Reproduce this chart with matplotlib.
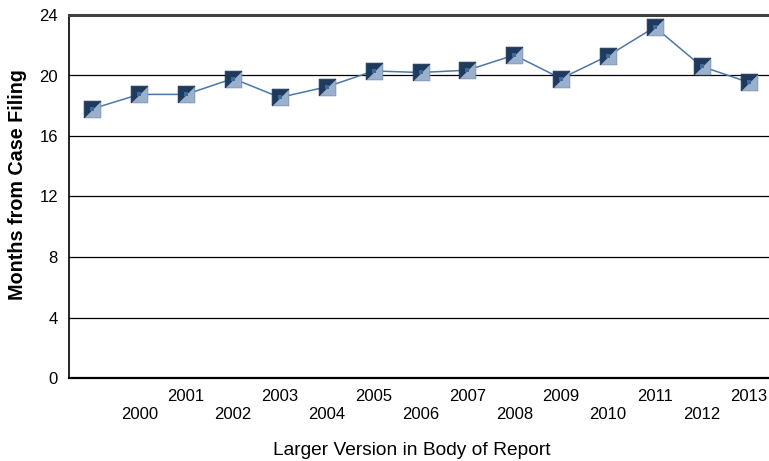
import matplotlib.pyplot as plt
from matplotlib.path import Path

plt.rcParams['font.family'] = ['Liberation Sans', 'DejaVu Sans']

years = [1999, 2000, 2001, 2002, 2003, 2004, 2005, 2006, 2007, 2008,
         2009, 2010, 2011, 2012, 2013]
months = [17.8, 18.75, 18.75, 19.8, 18.55, 19.25, 20.3, 20.2, 20.35, 21.35,
          19.8, 21.3, 23.2, 20.6, 19.55]
tick_labels = ["", "\n2000", "2001", "\n2002", "2003", "\n2004", "2005", "\n2006",
               "2007", "\n2008", "2009", "\n2010", "2011", "\n2012", "2013"]

W, H = 769, 461
fig = plt.figure(figsize=(W / 100, H / 100), dpi=100)
ax = fig.add_axes([69 / W, 1 - 378 / H, (772 - 69) / W, (378 - 15) / H])

x = list(range(len(years)))

ax.plot(x, months, color="#4a76aa", lw=1.1, zorder=3)

# split square marker: dark upper-left, light lower-right
upper_left = Path([(-1, -1), (-1, 1), (1, 1), (-1, -1)])
lower_right = Path([(-1, -1), (1, -1), (1, 1), (-1, -1)])
ax.plot(x, months, ls="none", marker=lower_right, ms=12, color="#9bb0cb",
        mec="#7890b0", mew=0.6, zorder=4)
ax.plot(x, months, ls="none", marker=upper_left, ms=12, color="#1f3a5c",
        mec="#1f3a5c", mew=0.6, zorder=5)
ax.plot(x, months, ls="none", marker="s", ms=2.5, color="#3d6a9e", mew=0, zorder=6)

ax.set_xlim(-0.5, 14.5)
ax.set_ylim(0, 24)
ax.set_yticks([0, 4, 8, 12, 16, 20, 24])
ax.set_xticks(x)
ax.set_xticklabels(tick_labels, linespacing=1.28)
ax.tick_params(axis="both", length=0, labelsize=12)
ax.tick_params(axis="x", pad=8)
ax.tick_params(axis="y", pad=8)

for v in [4, 8, 12, 16, 20]:
    ax.axhline(v, color="black", lw=0.9, zorder=1)

ax.spines["top"].set_color("#404040")
ax.spines["top"].set_linewidth(2.2)
ax.spines["right"].set_visible(False)
ax.spines["left"].set_linewidth(1.2)
ax.spines["bottom"].set_linewidth(1.6)

fig.text(18 / W, 1 - 185 / H, "Months from Case Filing", rotation=90,
         ha="center", va="center", fontsize=14.2, fontweight="bold")
fig.text(412 / W, 1 - 450 / H, "Larger Version in Body of Report",
         ha="center", va="center", fontsize=13.8)

fig.savefig("out.png", dpi=100)
